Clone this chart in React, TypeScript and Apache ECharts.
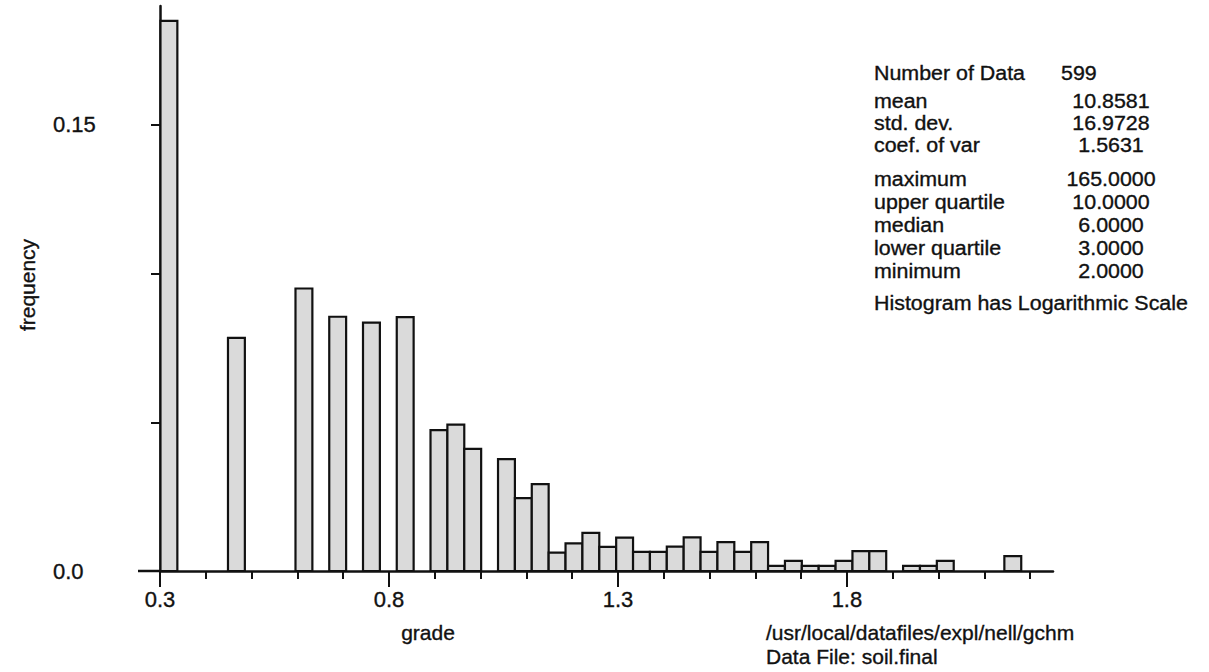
import React, { useEffect, useRef } from "react";
import * as echarts from "echarts";

// Histogram classes run over log10(grade) from the minimum to the maximum grade.
const BIN_LOW = Math.log10(2);
const BIN_HIGH = Math.log10(165);
const BIN_COUNT = 52;

// Relative frequency of each class, left to right.
const frequencies = [
  0.185, 0, 0, 0, 0.0784, 0, 0, 0, 0.095, 0,
  0.0855, 0, 0.0835, 0, 0.0854, 0, 0.0474, 0.0492, 0.0411, 0,
  0.0376, 0.0245, 0.0292, 0.0062, 0.0093, 0.0128, 0.0081, 0.0112, 0.0064, 0.0064,
  0.0082, 0.0113, 0.0064, 0.0097, 0.0064, 0.0097, 0.0017, 0.0034, 0.0017, 0.0017,
  0.0034, 0.0067, 0.0067, 0, 0.0017, 0.0017, 0.0034, 0, 0, 0,
  0.005, 0,
];

const X_MAJOR_TICKS = [0.3, 0.8, 1.3, 1.8];
const X_MINOR_TICKS = [0.4, 0.5, 0.6, 0.7, 0.9, 1.0, 1.1, 1.2, 1.4, 1.5, 1.6, 1.7, 1.9, 2.0, 2.1, 2.2];
const Y_TICKS = [0.05, 0.1, 0.15];
const Y_LABELS = [0, 0.15];

const statHeader = ["Number of Data", "599"];
const statNames = [
  "mean", "std. dev.", "coef. of var",
  "maximum", "upper quartile", "median", "lower quartile", "minimum",
];
const statValues = [
  "10.8581", "16.9728", "1.5631",
  "165.0000", "10.0000", "6.0000", "3.0000", "2.0000",
];
const scaleNote = "Histogram has Logarithmic Scale";
const pathLines = ["/usr/local/datafiles/expl/nell/gchm", "Data File: soil.final"];

const FONT = "'Liberation Sans', Arial, Helvetica, sans-serif";
const INK = "#111";

function txt(text: string, x: number, y: number, opts: any = {}) {
  return {
    type: "text",
    x,
    y,
    rotation: opts.rotation || 0,
    scaleX: opts.scaleX || 1,
    style: {
      text,
      fill: INK,
      stroke: INK,
      lineWidth: 0.35,
      font: `${opts.size || 20}px ${FONT}`,
      align: opts.align || "left",
      textAlign: opts.align || "left",
      verticalAlign: "middle",
      textVerticalAlign: "middle",
    },
  };
}

export default function App() {
  const ref = useRef<HTMLDivElement>(null);

  useEffect(() => {
    if (!ref.current) return;
    const chart = echarts.init(ref.current, undefined, { renderer: "svg" });

    const width = (BIN_HIGH - BIN_LOW) / BIN_COUNT;
    const binData = frequencies.map((f, i) => [BIN_LOW + i * width, BIN_LOW + (i + 1) * width, f]);

    const statRowsY = [101, 123, 145, 179, 202, 225, 248, 271];
    const stat = { scaleX: 1.07 };
    const graphics: any[] = [
      // x-axis line continues a little to the left of the frequency axis
      {
        type: "line",
        shape: { x1: 138, y1: 571, x2: 160, y2: 571 },
        style: { stroke: INK, lineWidth: 2.5 },
      },
      txt("frequency", 27, 285, { rotation: Math.PI / 2, align: "center", size: 21 }),
      txt("grade", 428, 632, { align: "center", size: 21 }),
      txt(pathLines[0], 766, 632, { size: 21 }),
      txt(pathLines[1], 766, 656, { size: 21 }),
      txt(statHeader[0], 874, 73, stat),
      txt(statHeader[1], 1061, 73, stat),
      txt(scaleNote, 874, 303, stat),
    ];
    statNames.forEach((n, i) => {
      graphics.push(txt(n, 874, statRowsY[i], stat));
      graphics.push(txt(statValues[i], 1111, statRowsY[i], { ...stat, align: "center" }));
    });

    const labelStyle = {
      fontSize: 22,
      fontFamily: FONT,
      color: INK,
      textBorderColor: INK,
      textBorderWidth: 0.35,
    };

    chart.setOption({
      animation: false,
      grid: { left: 160, right: 156, top: 6, bottom: 101 },
      xAxis: [
        {
          type: "value",
          min: 0.3,
          max: 2.25,
          axisLine: { show: true, onZero: false, lineStyle: { color: INK, width: 2.5 } },
          axisTick: { show: true, customValues: X_MAJOR_TICKS, length: 16, lineStyle: { color: INK, width: 2 } },
          axisLabel: {
            ...labelStyle,
            customValues: X_MAJOR_TICKS,
            formatter: (v: number) => v.toFixed(1),
            margin: 17,
          },
          splitLine: { show: false },
        },
        {
          type: "value",
          min: 0.3,
          max: 2.25,
          position: "bottom",
          axisLine: { show: false },
          axisTick: { show: true, customValues: X_MINOR_TICKS, length: 8, lineStyle: { color: INK, width: 2 } },
          axisLabel: { show: false },
          splitLine: { show: false },
        },
      ],
      yAxis: {
        type: "value",
        min: 0,
        max: 0.19,
        axisLine: { show: true, lineStyle: { color: INK, width: 2.5 } },
        axisTick: { show: true, customValues: Y_TICKS, length: 9, lineStyle: { color: INK, width: 2 } },
        axisLabel: {
          ...labelStyle,
          customValues: Y_LABELS,
          formatter: (v: number) => (v === 0 ? "0.0" : String(v)),
          align: "left",
          margin: 107,
        },
        splitLine: { show: false },
      },
      series: [
        {
          type: "custom",
          xAxisIndex: 0,
          yAxisIndex: 0,
          encode: { x: [0, 1], y: 2 },
          data: binData,
          renderItem: (params: any, api: any) => {
            const f = api.value(2);
            if (!f) return null;
            const p0 = api.coord([api.value(0), 0]);
            const p1 = api.coord([api.value(1), f]);
            return {
              type: "rect",
              shape: { x: p0[0], y: p1[1], width: p1[0] - p0[0], height: p0[1] - p1[1] },
              style: { fill: "#dadada", stroke: INK, lineWidth: 2.2 },
            };
          },
        },
      ],
      graphic: graphics,
    });

    return () => chart.dispose();
  }, []);

  return (
    <div
      ref={ref}
      style={{ position: "absolute", left: 0, top: 0, width: 1209, height: 672, background: "#fff" }}
    />
  );
}
